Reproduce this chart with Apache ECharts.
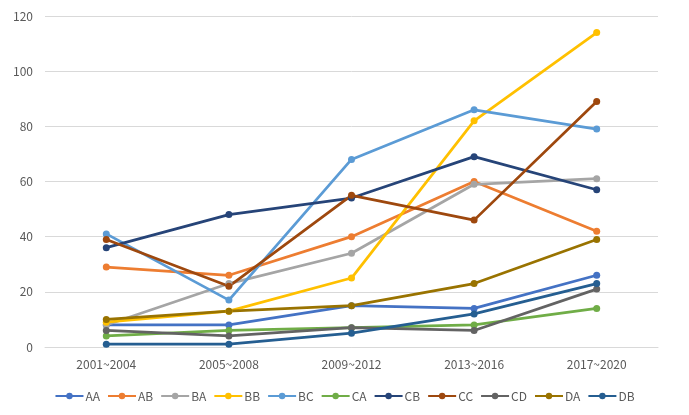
<!DOCTYPE html>
<html><head><meta charset="utf-8">
<script src="https://cdn.jsdelivr.net/npm/echarts@6/dist/echarts.min.js"></script>
<style>html,body{margin:0;padding:0;background:#fff}#c{width:689px;height:415px}</style>
</head><body><div id="c"></div>
<script>
const categories = ['2001~2004','2005~2008','2009~2012','2013~2016','2017~2020'];
const seriesNames = ['AA','AB','BA','BB','BC','CA','CB','CC','CD','DA','DB'];
const AA = [8, 8, 15, 14, 26];
const AB = [29, 26, 40, 60, 42];
const BA = [8, 23, 34, 59, 61];
const BB = [9, 13, 25, 82, 114];
const BC = [41, 17, 68, 86, 79];
const CA = [4, 6, 7, 8, 14];
const CB = [36, 48, 54, 69, 57];
const CC = [39, 22, 55, 46, 89];
const CD = [6, 4, 7, 6, 21];
const DA = [10, 13, 15, 23, 39];
const DB = [1, 1, 5, 12, 23];
const yTicks = [0, 20, 40, 60, 80, 100, 120];
const colors = ['#4472C4','#ED7D31','#A5A5A5','#FFC000','#5B9BD5','#70AD47','#264478','#9E480E','#636363','#997300','#255E91'];
const dataList = [AA, AB, BA, BB, BC, CA, CB, CC, CD, DA, DB];
const font = '"Noto Sans CJK KR", "Noto Sans", sans-serif';
const chart = echarts.init(document.getElementById('c'));
chart.setOption({
  animation: false,
  color: colors,
  textStyle: {fontFamily: font},
  grid: {left: 45, right: 31, top: 16, bottom: 68},
  legend: {
    bottom: 8, left: 'center', itemWidth: 28, itemHeight: 8, itemGap: 7,
    textStyle: {color: '#595959', fontSize: 12, fontFamily: font, padding: [0, 0, 0, -3]},
    data: seriesNames
  },
  xAxis: {
    type: 'category', data: categories, boundaryGap: true,
    axisLine: {show: true, lineStyle: {color: '#d9d9d9', width: 1}},
    axisTick: {show: false},
    axisLabel: {color: '#595959', fontSize: 12, margin: 11, fontFamily: font}
  },
  yAxis: {
    type: 'value', min: yTicks[0], max: yTicks[yTicks.length-1], interval: 20,
    axisLine: {show: false}, axisTick: {show: false},
    splitLine: {lineStyle: {color: '#d9d9d9', width: 1}},
    axisLabel: {color: '#595959', fontSize: 12, margin: 12, fontFamily: font}
  },
  series: seriesNames.map((n, i) => ({
    name: n, type: 'line', data: dataList[i],
    symbol: 'circle', symbolSize: 7, showSymbol: true,
    lineStyle: {width: 2.75, color: colors[i]},
    itemStyle: {color: colors[i]}
  }))
});
</script></body></html>
